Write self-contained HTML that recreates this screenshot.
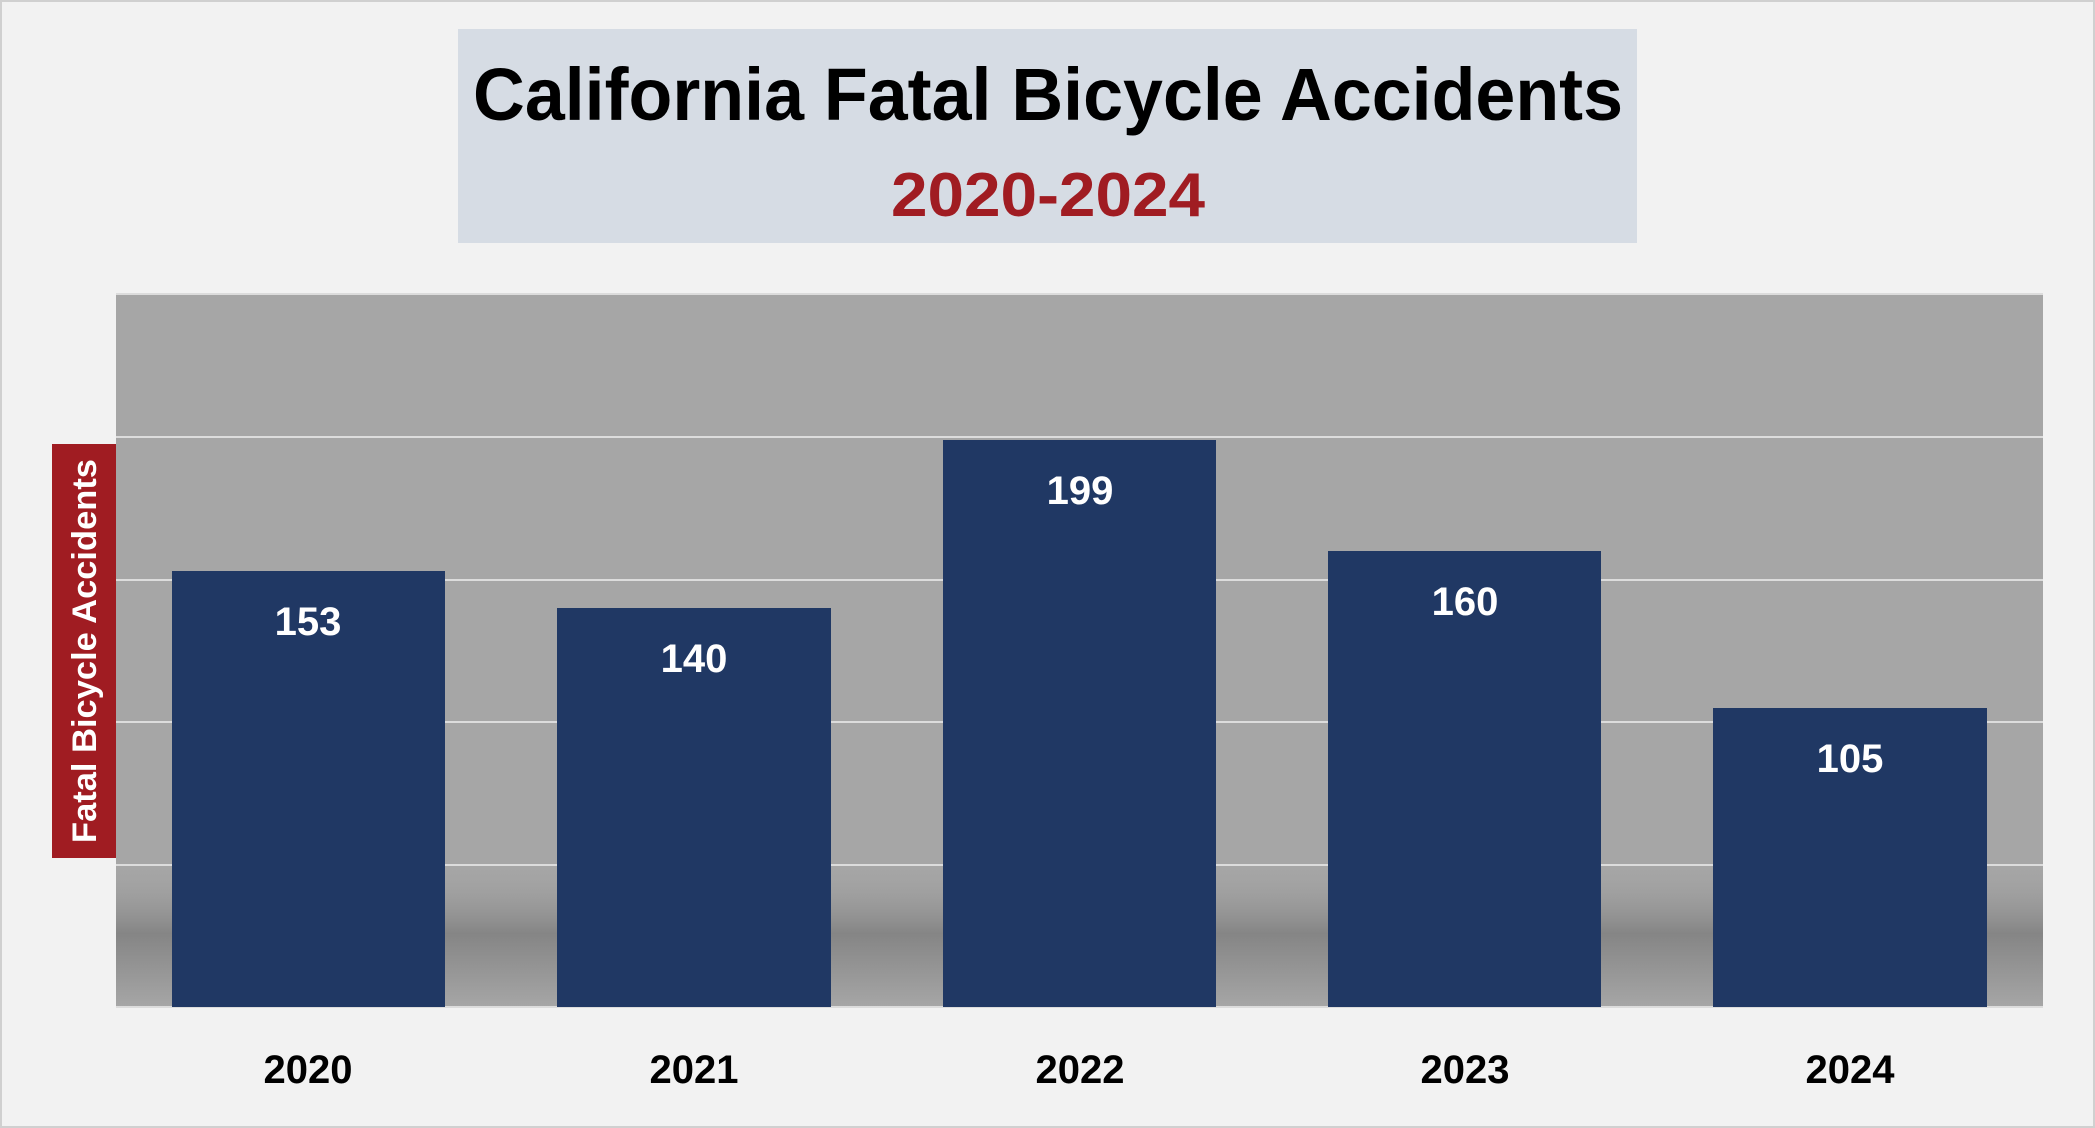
<!DOCTYPE html>
<html><head><meta charset="utf-8"><style>
html,body{margin:0;padding:0;background:#f2f2f2;}
svg{display:block;}
</style></head><body>
<svg width="2095" height="1128" viewBox="0 0 2095 1128" xmlns="http://www.w3.org/2000/svg" font-family="'Liberation Sans', sans-serif">
<defs>
<linearGradient id="sh" x1="0" y1="0" x2="0" y2="1">
<stop offset="0" stop-color="#a6a6a6" stop-opacity="0"/>
<stop offset="0.5" stop-color="#858585"/>
<stop offset="1" stop-color="#a6a6a6"/>
</linearGradient>
</defs>
<rect x="1" y="1" width="2093" height="1126" fill="#f2f2f2" stroke="#d0d0d0" stroke-width="2"/>
<rect x="458" y="29" width="1179" height="214" fill="#d6dce4"/>
<text x="1048" y="120" font-size="74" font-weight="bold" text-anchor="middle" textLength="1150" lengthAdjust="spacingAndGlyphs" fill="#000">California Fatal Bicycle Accidents</text>
<text x="1048" y="216" font-size="62" font-weight="bold" text-anchor="middle" textLength="314" lengthAdjust="spacingAndGlyphs" fill="#a01c22">2020-2024</text>
<rect x="116" y="294" width="1927" height="713" fill="#a6a6a6"/>
<rect x="116" y="860" width="1927" height="147" fill="url(#sh)"/>
<g stroke="#dcdcdc" stroke-width="2">
<line x1="116" y1="294" x2="2043" y2="294"/>
<line x1="116" y1="437" x2="2043" y2="437"/>
<line x1="116" y1="580" x2="2043" y2="580"/>
<line x1="116" y1="722" x2="2043" y2="722"/>
<line x1="116" y1="865" x2="2043" y2="865"/>
<line x1="116" y1="1007" x2="2043" y2="1007"/>
</g>
<g fill="#203864">
<rect x="172" y="571" width="273" height="436"/>
<rect x="557" y="608" width="274" height="399"/>
<rect x="943" y="440" width="273" height="567"/>
<rect x="1328" y="551" width="273" height="456"/>
<rect x="1713" y="708" width="274" height="299"/>
</g>
<g fill="#fff" font-size="40" font-weight="bold" text-anchor="middle">
<text x="308" y="635">153</text>
<text x="694" y="672">140</text>
<text x="1080" y="504">199</text>
<text x="1465" y="615">160</text>
<text x="1850" y="772">105</text>
</g>
<g fill="#000" font-size="40" font-weight="bold" text-anchor="middle">
<text x="308" y="1083">2020</text>
<text x="694" y="1083">2021</text>
<text x="1080" y="1083">2022</text>
<text x="1465" y="1083">2023</text>
<text x="1850" y="1083">2024</text>
</g>
<rect x="52" y="444" width="64" height="414" fill="#a01c22"/>
<text transform="translate(96,651) rotate(-90)" fill="#fff" font-size="34" font-weight="bold" text-anchor="middle" textLength="384" lengthAdjust="spacingAndGlyphs">Fatal Bicycle Accidents</text>
</svg>
</body></html>
